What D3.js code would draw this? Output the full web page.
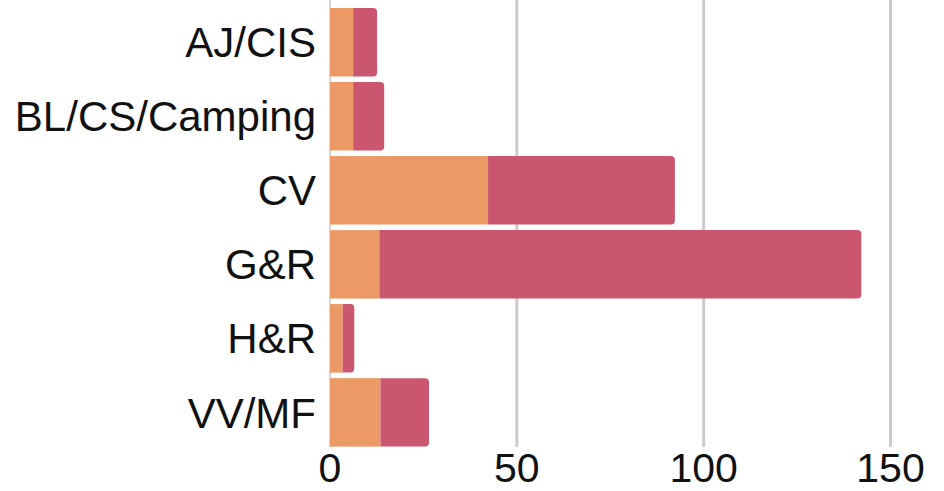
<html>
<head>
    <title>stacked bars</title>
    <style>
        body { margin: 0; background: #fff; }
        svg { display: block; font-family: "Liberation Sans", Arial, sans-serif; }
    </style>
</head>
<body>
    <script src="https://d3js.org/d3.v7.min.js"></script>
    <script>
        var categories = ['AJ/CIS', 'BL/CS/Camping', 'CV', 'G&R', 'H&R', 'VV/MF'];
        var seriesA = [6.2, 6.2, 42.3, 13.2, 3.4, 13.5];
        var seriesB = [6.4, 8.3, 50, 129, 3.1, 13];
        var xTicks = [0, 50, 100, 150];

        var w = 944, h = 491;
        var colors = ['#eb9a65', '#ca566f'];

        var svg = d3.select('body').append('svg')
            .attr('width', w).attr('height', h);

        var x = d3.scaleLinear().domain([0, 150]).range([330, 890.5]);
        var y = d3.scaleBand().domain(categories)
            .range([5.2, 449.4])
            .paddingInner(0.075)
            .paddingOuter(0.0375);

        // grid lines
        svg.append('g').selectAll('line')
            .data(xTicks.slice(1))
            .enter().append('line')
            .attr('x1', d => x(d)).attr('x2', d => x(d))
            .attr('y1', 0).attr('y2', 447)
            .attr('stroke', '#cccccc')
            .attr('stroke-width', 3);

        // zero line
        svg.append('line')
            .attr('x1', x(0)).attr('x2', x(0))
            .attr('y1', 0).attr('y2', 447)
            .attr('stroke', '#d6d6d6')
            .attr('stroke-width', 2);

        var rows = categories.map(function (c, i) {
            return { cat: c, a: seriesA[i], b: seriesB[i] };
        });

        var r = 4;
        var g = svg.append('g');
        rows.forEach(function (d) {
            var y0 = y(d.cat), bh = y.bandwidth();
            var xa = x(0), xb = x(d.a), xc = x(d.a + d.b);
            g.append('rect')
                .attr('x', xa).attr('y', y0)
                .attr('width', xb - xa).attr('height', bh)
                .attr('fill', colors[0]);
            // last segment gets rounded right corners
            var p = d3.path();
            p.moveTo(xb, y0);
            p.lineTo(xc - r, y0);
            p.arcTo(xc, y0, xc, y0 + r, r);
            p.lineTo(xc, y0 + bh - r);
            p.arcTo(xc, y0 + bh, xc - r, y0 + bh, r);
            p.lineTo(xb, y0 + bh);
            p.closePath();
            g.append('path').attr('d', p.toString()).attr('fill', colors[1]);
        });

        // category labels
        svg.append('g').selectAll('text')
            .data(categories)
            .enter().append('text')
            .attr('x', 316)
            .attr('y', d => y(d) + y.bandwidth() / 2)
            .attr('dy', '0.36em')
            .attr('text-anchor', 'end')
            .attr('font-size', 42)
            .attr('fill', '#111')
            .text(d => d);

        // x tick labels
        svg.append('g').selectAll('text')
            .data(xTicks)
            .enter().append('text')
            .attr('x', d => x(d))
            .attr('y', 482)
            .attr('text-anchor', 'middle')
            .attr('font-size', 41)
            .attr('fill', '#111')
            .text(d => d);
    </script>
</body>
</html>
